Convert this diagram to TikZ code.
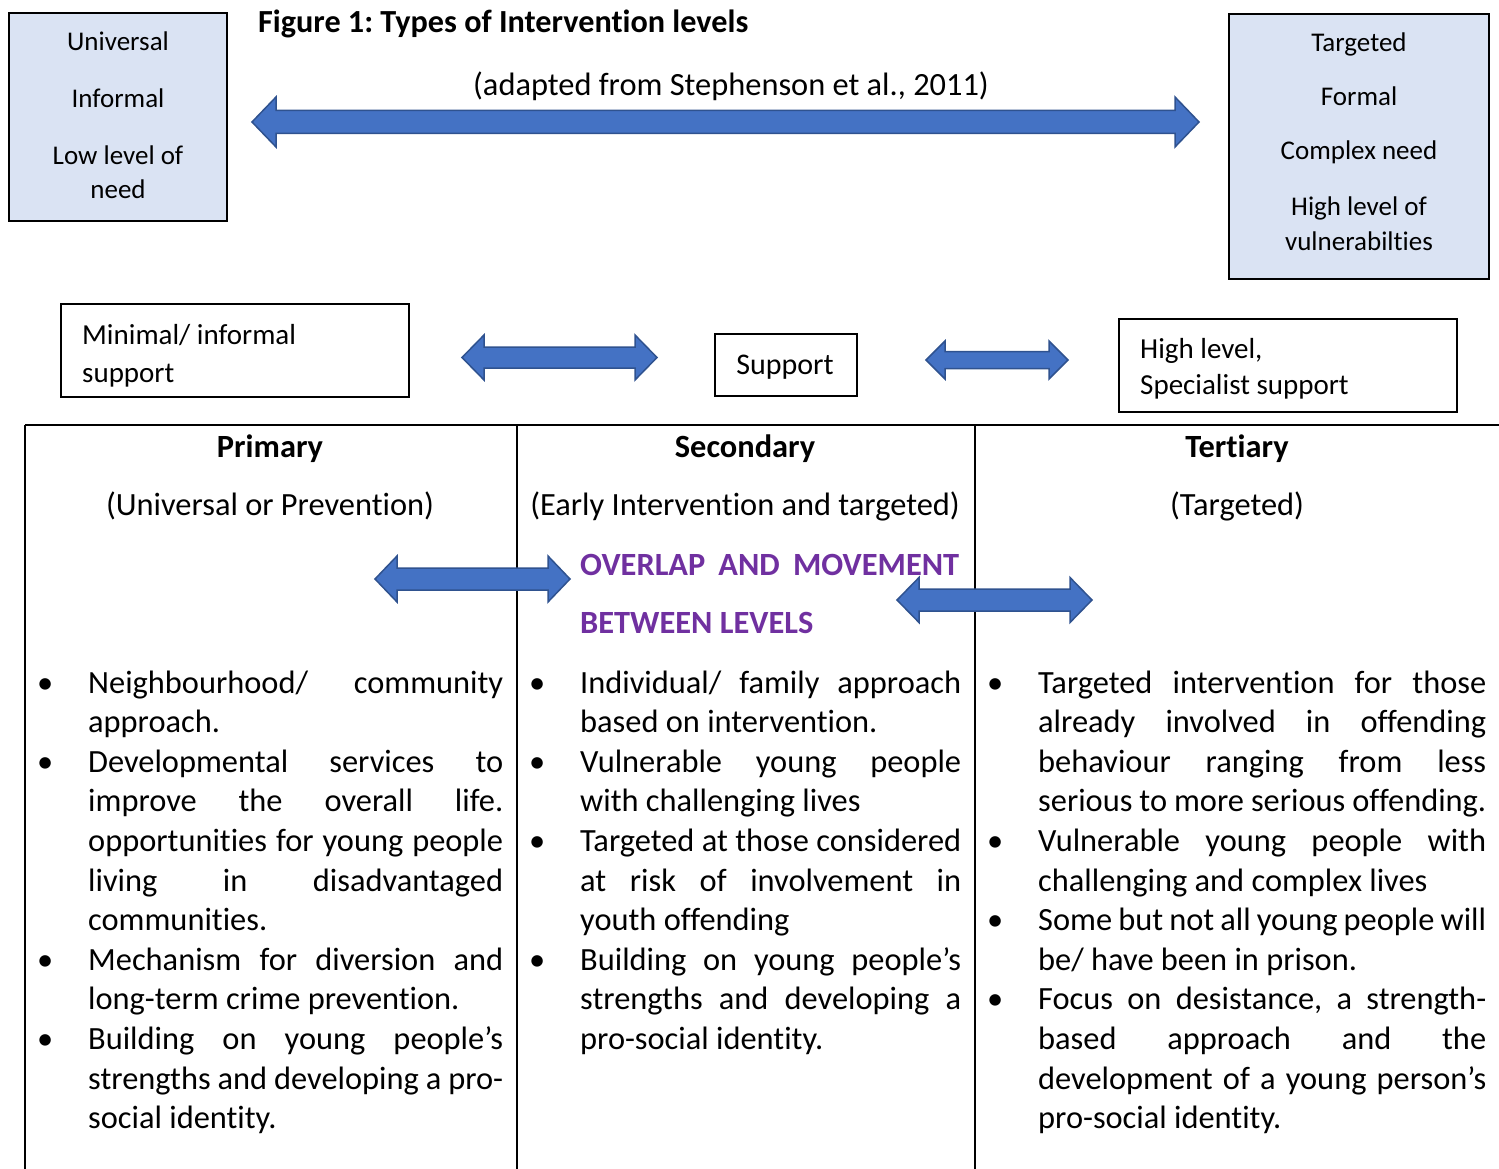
\documentclass[tikz,border=0pt]{standalone}
\usepackage{fontspec}
\setmainfont{Carlito}[Ligatures=NoCommon]
\definecolor{arrowblue}{HTML}{4472C4}
\definecolor{arrowedge}{HTML}{2F528F}
\definecolor{boxblue}{HTML}{DAE3F3}
\definecolor{overlappurple}{HTML}{7030A0}
\frenchspacing
\newcommand{\bodysize}{\fontsize{32.4}{39.6}\selectfont}
% left x, right x, centre y, shaft half, head half, head length
\newcommand{\blockarrow}[6]{%
  \draw[blockarrow] (#1,#3) -- ++(#6,-#5) -- ++(0,#5-#4) -- (#2-#6,#3-#4)
    -- ++(0,#4-#5) -- (#2,#3) -- ++(-#6,#5) -- ++(0,#4-#5) -- (#1+#6,#3+#4)
    -- ++(0,#5-#4) -- cycle;}
\newcommand{\bul}{\par\noindent\llap{\textbullet\hspace{35pt}}}
\tikzset{
  levelbox/.style={draw, line width=1.5pt, fill=boxblue, inner sep=0pt},
  careboxes/.style={draw, line width=1.5pt, inner sep=0pt},
  boxtext/.style={inner sep=0pt, font=\fontsize{27}{34}\selectfont, align=center},
  caretext/.style={inner sep=0pt, font=\fontsize{29}{38}\selectfont, align=left},
  blockarrow/.style={fill=arrowblue, draw=arrowedge, line width=1.5pt, line join=miter},
  tableline/.style={line width=2pt},
  listcol/.style={anchor=base west, inner sep=0pt, font=\bodysize},
  head/.style={anchor=base, inner sep=0pt, font=\bodysize},
  overlaptext/.style={anchor=base west, inner sep=0pt, text=overlappurple,
    font=\fontsize{32.4}{36}\selectfont\bfseries},
}
\begin{document}
\begin{tikzpicture}[x=1pt, y=-1pt]
\useasboundingbox (0,0) rectangle (1499,1169);

% heading and the two ends of the scale
\node[anchor=base west, inner sep=0pt, font=\fontsize{32.2}{38}\selectfont\bfseries] (title) at (258,33) {Figure 1: Types of Intervention levels};
\node[anchor=base, inner sep=0pt, font=\bodysize] (source) at (731,96) {(adapted from Stephenson et al., 2011)};
\node[levelbox, minimum width=218pt, minimum height=208pt] (universal) at (118,117) {};
\node[boxtext] (universaltext) at (118,115) {Universal\\[23pt]Informal\\[23pt]Low level of\\need};
\node[levelbox, minimum width=260pt, minimum height=265pt] (targeted) at (1359,146.5) {};
\node[boxtext, font=\fontsize{27}{35}\selectfont] (targetedtext) at (1359,141.5)
  {Targeted\\[19pt]Formal\\[19pt]Complex need\\[21pt]High level of\\vulnerabilties};
\blockarrow{252}{1199}{122}{11.5}{25}{24}

% support row
\node[careboxes, minimum width=348pt, minimum height=93pt] (minimal) at (235,350.5) {};
\node[caretext, anchor=west] (minimaltext) at (82,355.5) {Minimal/ informal\\support};
\node[careboxes, minimum width=142pt, minimum height=62pt] (support) at (786,365) {};
\node[caretext, font=\fontsize{30}{36}\selectfont] (supporttext) at (785,367) {Support};
\node[careboxes, minimum width=338pt, minimum height=93pt] (specialist) at (1288,365.5) {};
\node[caretext, anchor=west, font=\fontsize{29}{36}\selectfont] (specialisttext) at (1140,368.5) {High level,\\Specialist support};
\blockarrow{462}{657}{357.5}{10.5}{22.5}{22}
\blockarrow{926}{1068}{360}{8.5}{19}{19}

% table
\draw[tableline] (25,425) -- (1499,425);
\draw[tableline] (25,425) -- (25,1169);
\draw[tableline] (517,425) -- (517,1169);
\draw[tableline] (975,425) -- (975,1169);

\node[head, font=\bodysize\bfseries] (primary) at (270,457) {Primary};
\node[head] (primarysub) at (270,515) {(Universal or Prevention)};
\node[head, font=\bodysize\bfseries] (secondary) at (745,457) {Secondary};
\node[head] (secondarysub) at (745,515) {(Early Intervention and targeted)};
\node[head, font=\bodysize\bfseries] (tertiary) at (1237,457) {Tertiary};
\node[head] (tertiarysub) at (1237,515) {(Targeted)};

\node[overlaptext] (overlap) at (580,575) {\hbox to 379pt{OVERLAP\hfill AND\hfill MOVEMENT}};
\node[overlaptext] (between) at (580,633) {BETWEEN LEVELS};
\blockarrow{375}{570}{579}{11}{23}{22}
\blockarrow{897}{1092}{600}{11}{22.5}{22}

% the three lists
\node[listcol] (primarylist) at (88,693) {\parbox[t]{415pt}{\hyphenpenalty=10000
  \bul Neighbourhood/ community \linebreak approach.
  \bul Developmental services to \linebreak improve the overall life. \linebreak opportunities for young people \linebreak living in disadvantaged \linebreak communities.
  \bul Mechanism for diversion and \linebreak long-term crime prevention.
  \bul Building on young people’s \linebreak strengths and developing a pro-\linebreak social identity.}};
\node[listcol] (secondarylist) at (580,693) {\parbox[t]{381pt}{\hyphenpenalty=10000
  \bul Individual/ family approach \linebreak based on intervention.
  \bul Vulnerable young people \linebreak with challenging lives
  \bul Targeted at those considered \linebreak at risk of involvement in \linebreak youth offending
  \bul Building on young people’s \linebreak strengths and developing a \linebreak pro-social identity.}};
\node[listcol] (tertiarylist) at (1038,693) {\parbox[t]{448pt}{\hyphenpenalty=10000
  \bul Targeted intervention for those \linebreak already involved in offending \linebreak behaviour ranging from less \linebreak serious to more serious offending.
  \bul Vulnerable young people with \linebreak challenging and complex lives
  \bul Some but not all young people will \linebreak be/ have been in prison.
  \bul Focus on desistance, a strength-\linebreak based approach and the \linebreak development of a young person’s \linebreak pro-social identity.}};
\end{tikzpicture}
\end{document}
